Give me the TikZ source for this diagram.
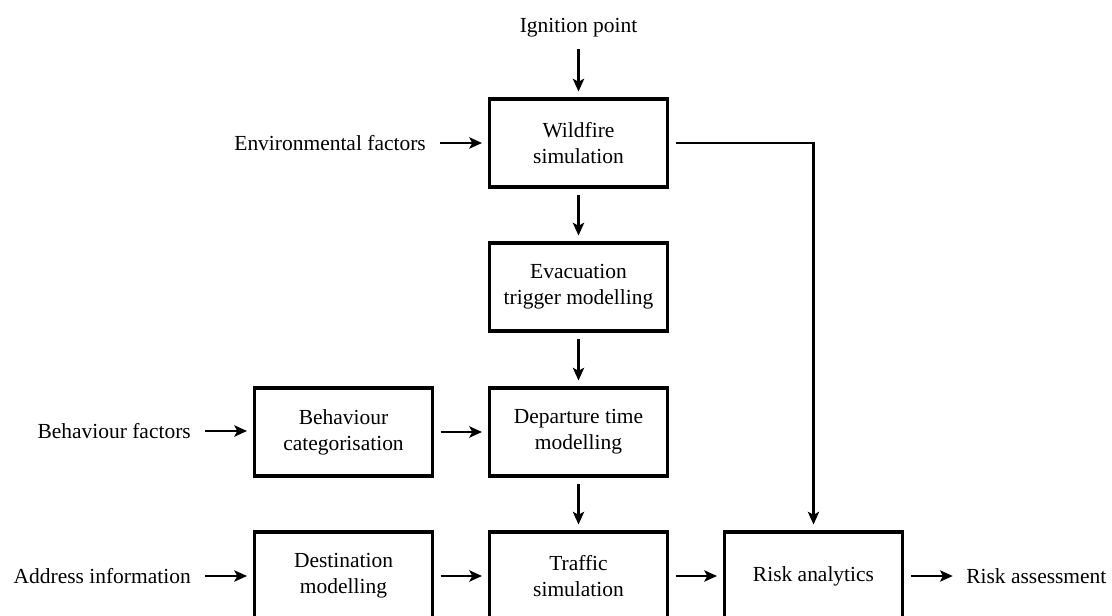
\documentclass[tikz,border=0pt]{standalone}
\usepackage{fontspec}
\setmainfont{Liberation Serif}
\usetikzlibrary{arrows.meta}
\begin{document}
\begin{tikzpicture}[x=0.75pt,y=-0.75pt,
  font=\fontsize{16.1}{19.5}\selectfont,
  stage/.style={draw,line width=2.3pt,minimum width=133.5pt,minimum height=66pt,align=center,inner sep=0pt},
  label/.style={inner sep=0pt},
  flow/.style={line width=1.6pt,-{Stealth[length=9.5pt,width=8.5pt,inset=2.2pt]},shorten >=4.5pt,shorten <=5pt},
  inflow/.style={flow,shorten <=10.5pt}]
\useasboundingbox (0,0) rectangle (1112,616);
% processing stages
\node[stage] (wild) at (578.5,143) {Wildfire\\simulation};
\node[stage] (evac) at (578.5,287) {Evacuation\\trigger modelling};
\node[stage] (dep)  at (578.5,432) {Departure time\\modelling};
\node[stage] (beh)  at (343.5,432) {Behaviour\\categorisation};
\node[stage] (dest) at (343.5,576) {Destination\\modelling};
\node[stage] (traf) at (578.5,576) {Traffic\\simulation};
\node[stage] (risk) at (813.5,576) {Risk analytics};
% inputs and output
\node[label] (ign) at (578.5,27.5) {Ignition point};
\node[label,anchor=east] (env) at (426,143) {Environmental factors};
\node[label,anchor=east] (bfac) at (191,431) {Behaviour factors};
\node[label,anchor=east] (addr) at (191,576) {Address information};
\node[label,anchor=west] (out) at (966,576) {Risk assessment};
% connectors
\draw[flow,shorten <=9pt] (ign) -- (wild);
\draw[inflow] (env.east) -- (wild.west |- env.east);
\draw[inflow] (bfac.east) -- (beh.west |- bfac.east);
\draw[inflow] (addr.east) -- (dest.west |- addr.east);
\draw[flow] (wild) -- (evac);
\draw[flow] (evac) -- (dep);
\draw[flow] (dep) -- (traf);
\draw[flow] (beh) -- (dep);
\draw[flow] (dest) -- (traf);
\draw[flow] (traf) -- (risk);
\draw[flow,shorten >=10pt] (risk.east |- out.west) -- (out.west);
\draw[flow] (wild.east) -| (risk.north);
\end{tikzpicture}
\end{document}
